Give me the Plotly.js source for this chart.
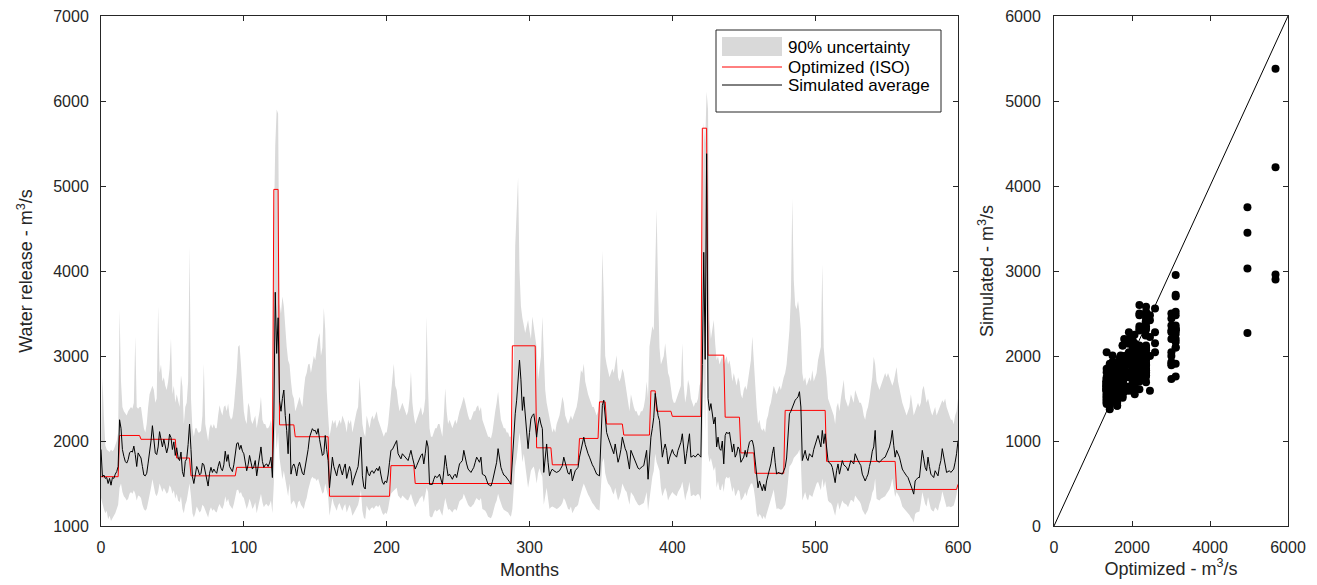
<!DOCTYPE html>
<html>
<head>
<meta charset="utf-8">
<script src="https://cdn.plot.ly/plotly-3.0.1.min.js"></script>
<style>html,body{margin:0;padding:0;background:#fff;}#chart{width:1317px;height:585px;}</style>
</head>
<body>
<div id="chart"></div>
<script>
// Simulated average release per month (m3/s), months 0..600
const simulated = [
1900,1580,1600,1560,1570,1500,1560,1480,1570,1560,
1610,1640,1700,2250,2150,1900,1820,1760,1740,1780,
1860,1880,1870,1940,1840,1700,1860,1830,1800,1700,
1600,1590,1620,1740,1850,2000,2180,2010,1860,1840,
1930,2110,2000,1930,2020,1950,1860,1930,2080,2040,
1900,1990,1830,1920,1800,1770,1870,1640,1580,1760,
1790,1960,2200,1900,1580,1500,1580,1700,1660,1600,
1620,1740,1720,1620,1560,1470,1620,1690,1630,1670,
1640,1620,1700,1760,1680,1650,1720,1880,1760,1840,
1700,1660,1640,1720,1860,1970,1980,1900,1950,1880,
1850,1760,1650,1720,1830,1750,1670,1700,1770,1590,
1700,1800,1930,1760,1690,1720,1730,1700,1740,1810,
1570,2270,3750,3030,3450,2480,2350,2500,2600,2300,
2125,1850,2320,1610,1700,1730,1680,1590,1700,1750,
1680,1620,1600,1700,1770,1900,2045,2100,2145,2120,
2125,2080,2145,2020,1930,1830,1850,2065,1900,1770,
1450,1620,1810,1700,1640,1590,1680,1730,1660,1600,
1680,1730,1560,1620,1700,1640,1480,1550,1590,1650,
1700,1850,2045,1590,1460,1435,1700,1620,1590,1640,
1650,1620,1660,1680,1650,1700,1600,1520,1490,1530,
1510,1600,1750,1890,1900,1930,1960,2005,1850,1820,
1790,1850,1830,1810,1790,1770,1830,1890,1810,1740,
1670,1710,1750,1810,1830,1850,1730,1850,2005,1930,
1490,1490,1490,1550,1590,1570,1580,1610,1550,1490,
1650,1830,1700,1590,1610,1580,1550,1590,1610,1570,
1650,1730,1750,1770,1890,1800,1730,1670,1650,1630,
1660,1690,1750,1810,1780,1750,1810,1610,1600,1590,
1540,1490,1480,1470,1520,1610,1700,1750,1910,1800,
1690,1640,1600,1590,1570,1550,1520,1490,1760,2100,
2320,2480,2700,2953,2720,2360,2520,2300,2165,1910,
2100,2260,2300,2320,2200,2045,2200,2280,2200,2145,
1630,1800,1965,1750,1590,1640,1670,1650,1640,1630,
1640,1650,1680,1710,1810,1750,1690,1620,1610,1670,
1530,1600,1650,1670,1690,1810,1900,1985,2045,1960,
1890,1850,1810,1760,1720,1690,1650,1610,1600,1590,
2000,2420,2480,2225,2100,2045,2000,1965,1900,1850,
1965,1850,1750,1810,1900,2045,1960,1910,1870,1770,
1670,1890,1850,1810,1760,1710,1680,1670,1690,1700,
1710,1800,1890,1550,1800,2045,2150,2280,2560,2400,
2300,2240,1965,1810,1900,1965,1890,1730,1800,1850,
1900,1850,1830,1810,1890,1930,1985,2085,1900,1730,
1850,1950,2085,1810,1820,1830,1810,1830,1850,1830,
1810,2900,4220,2960,5380,2500,2360,2440,2300,2200,
2280,1930,2045,1910,1890,2000,1730,2065,2105,2085,
2105,2005,1870,1965,1810,1850,1930,1900,1750,1780,
1810,1890,1810,1910,1985,2005,2005,1930,1770,1550,
1450,1530,1470,1415,1490,1415,1530,1590,1650,1730,
1850,1930,1750,1610,1630,1620,1610,1610,1650,1690,
1800,2100,2320,2350,2400,2440,2480,2500,2520,2580,
2400,1770,1830,1890,1800,1770,1850,1830,1810,1900,
1965,2030,2065,2000,1930,2125,1970,2085,1900,1770,
1740,1730,1690,1600,1510,1650,1730,1610,1700,1770,
1720,1710,1690,1650,1700,1770,1750,1730,1850,1800,
1770,1740,1710,1610,1570,1530,1570,1610,1700,1770,
1880,1930,2125,1770,1760,1750,1770,1790,1800,1810,
1850,1890,1930,2000,2125,1950,1810,1890,1850,1810,
1740,1670,1640,1610,1590,1570,1530,1490,1430,1375,
1530,1550,1570,1570,1700,1890,1790,1690,1650,1810,
1700,1610,1590,1570,1650,1620,1590,1700,1770,1910,
1810,1700,1630,1640,1650,1630,1650,1670,1750,1850,
2005];

// 90% uncertainty band, lower edge
const bandLower = [
1330,1250,1200,1150,1180,1080,1120,1060,1100,1120,
1150,1200,1250,1450,1500,1400,1350,1330,1300,1320,
1380,1400,1380,1420,1380,1300,1360,1350,1330,1250,
1200,1180,1200,1280,1350,1450,1550,1480,1380,1350,
1400,1500,1450,1400,1450,1420,1380,1400,1480,1450,
1380,1420,1320,1380,1300,1280,1350,1200,1150,1250,
1300,1400,1500,1350,1150,1100,1150,1230,1200,1160,
1180,1250,1230,1180,1130,1100,1180,1220,1180,1200,
1170,1160,1220,1260,1220,1200,1250,1350,1280,1320,
1250,1220,1200,1260,1350,1420,1430,1380,1400,1350,
1330,1270,1200,1250,1320,1270,1200,1230,1280,1150,
1220,1300,1380,1280,1220,1250,1260,1230,1250,1300,
1150,1500,2200,1900,2100,1800,1700,1550,1650,1550,
1450,1350,1500,1250,1280,1300,1260,1200,1280,1300,
1250,1220,1200,1280,1330,1420,1500,1550,1580,1560,
1560,1530,1560,1500,1450,1380,1400,1500,1420,1350,
1120,1230,1330,1260,1220,1180,1240,1270,1220,1180,
1230,1260,1160,1200,1250,1200,1120,1150,1180,1220,
1250,1330,1420,1180,1100,1080,1240,1200,1180,1210,
1220,1200,1230,1240,1220,1250,1200,1150,1130,1160,
1140,1200,1300,1380,1400,1420,1430,1450,1360,1340,
1320,1360,1340,1330,1310,1300,1340,1380,1320,1280,
1220,1260,1280,1320,1340,1360,1280,1350,1450,1400,
1120,1100,1110,1160,1190,1170,1180,1200,1160,1120,
1230,1330,1260,1190,1200,1180,1160,1190,1200,1180,
1230,1290,1310,1320,1380,1330,1290,1250,1230,1220,
1240,1260,1300,1330,1310,1300,1330,1200,1190,1180,
1150,1110,1100,1090,1130,1200,1260,1300,1380,1320,
1260,1220,1190,1180,1170,1160,1130,1110,1200,1500,
1700,1800,1950,2100,1950,1750,1850,1700,1600,1450,
1550,1650,1680,1700,1620,1500,1620,1680,1620,1580,
1250,1350,1450,1320,1200,1220,1230,1220,1210,1200,
1210,1220,1240,1270,1330,1300,1250,1200,1190,1230,
1150,1190,1220,1230,1250,1330,1400,1450,1500,1450,
1400,1370,1340,1300,1270,1250,1220,1200,1190,1180,
1450,1750,1800,1620,1550,1500,1480,1450,1400,1370,
1450,1380,1300,1340,1400,1500,1450,1420,1400,1320,
1250,1400,1380,1350,1310,1270,1250,1240,1250,1260,
1270,1330,1400,1180,1330,1500,1580,1650,1850,1750,
1700,1650,1450,1350,1400,1450,1400,1300,1340,1380,
1400,1380,1360,1350,1400,1430,1460,1520,1400,1300,
1380,1430,1520,1350,1360,1370,1350,1360,1380,1360,
1300,2000,2900,2100,3600,1850,1750,1800,1700,1650,
1700,1450,1530,1430,1420,1500,1400,1550,1580,1560,
1580,1500,1400,1460,1350,1380,1430,1410,1300,1320,
1350,1400,1350,1420,1470,1500,1500,1440,1320,1150,
1100,1140,1120,1080,1120,1080,1140,1200,1240,1300,
1380,1430,1300,1200,1210,1200,1190,1200,1220,1250,
1350,1550,1700,1720,1750,1800,1820,1840,1860,1900,
1750,1300,1350,1400,1330,1300,1370,1350,1340,1400,
1450,1500,1520,1470,1420,1560,1450,1530,1400,1300,
1280,1270,1240,1180,1120,1220,1280,1190,1250,1300,
1270,1260,1250,1220,1260,1310,1300,1280,1360,1330,
1310,1290,1260,1190,1160,1130,1160,1190,1260,1310,
1390,1430,1560,1320,1310,1300,1320,1330,1340,1350,
1380,1400,1430,1480,1560,1450,1340,1400,1370,1340,
1290,1230,1210,1190,1170,1160,1130,1100,1080,1040,
1140,1160,1170,1170,1270,1400,1330,1260,1230,1340,
1270,1200,1180,1170,1220,1200,1180,1260,1310,1410,
1340,1270,1220,1230,1230,1220,1230,1240,1300,1370,
1480];

// 90% uncertainty band, upper edge
const bandUpper = [
1950,2750,2300,1950,1900,1880,1870,1900,1880,1900,
1950,2000,2100,3545,2700,2400,2350,2320,2300,2350,
2380,2400,2380,2450,3230,2400,2380,2400,2400,2250,
2150,2100,2200,2400,2550,2600,2650,2600,2450,2500,
3585,2800,2900,2700,2750,2650,2600,2700,2850,3210,
2550,2650,2450,2550,2450,2400,2775,2640,2200,2400,
2450,2700,4295,2500,2150,2050,2150,2150,2100,2100,
2120,2300,2910,2200,2100,2000,2150,2200,2150,2200,
2150,2150,2300,2420,2350,2300,2400,2420,2350,2440,
2300,2250,2280,2400,2600,2800,3110,3130,2900,2600,
2350,2250,2200,2450,2400,2250,2200,2250,2300,2150,
2250,2350,2520,2250,2200,2200,2150,2150,2180,2250,
2100,4500,5480,5900,5850,3620,3500,3700,3585,3300,
3110,2950,2900,2700,2550,2500,2350,2400,2450,2520,
2450,2400,2600,2750,2800,2900,2910,2800,2900,3000,
2950,3100,3200,3270,3000,3100,3565,3310,2600,2300,
2050,2150,2250,2200,2250,2150,2200,2250,2200,2300,
2250,2200,2100,2250,2200,2250,2100,2200,2300,2350,
2400,2755,2500,2200,2100,2050,2300,2200,2150,2250,
2300,2250,2300,2350,2250,2200,2150,2100,2050,2100,
2100,2200,2400,2550,2700,2910,2650,2600,2450,2350,
2400,2450,2400,2350,2300,2350,2500,2815,2450,2300,
2200,2250,2300,2350,2400,2300,2350,2500,3465,2600,
2150,2050,2050,2100,2150,2150,2200,2200,2100,2050,
2300,2620,2350,2200,2250,2200,2150,2200,2250,2200,
2300,2350,2400,2450,2520,2450,2350,2300,2250,2250,
2300,2350,2350,2400,2420,2350,2400,2250,2200,2150,
2100,2050,2050,2030,2100,2250,2350,2450,2580,2400,
2250,2200,2150,2150,2100,2100,2050,2050,2300,3000,
4295,4700,5100,4000,3585,3450,3350,3270,3350,3425,
3300,3200,3465,3350,3200,3100,2720,2900,2990,3465,
3000,2600,2450,2350,2250,2150,2100,2150,2100,2200,
2250,2300,2400,2520,2450,2300,2250,2200,2250,2300,
2250,2300,2350,2400,2500,2650,2835,2800,2910,2700,
2600,2550,2500,2450,2400,2400,2350,2300,2350,2500,
3200,4235,3700,3000,2900,2800,2750,2800,2850,2800,
2900,3010,2750,2700,2750,2850,2800,2700,2600,2500,
2350,2550,2450,2400,2350,2350,2300,2300,2350,2350,
2400,2500,2700,2500,3110,3250,3350,3300,4000,4730,
3800,3100,2900,2950,3000,3150,3000,2800,2750,2600,
2500,2450,2450,2500,2550,2600,2650,3150,2650,2450,
2550,2720,2650,2500,2450,2400,2450,2450,2500,2650,
2700,4500,5750,5500,6110,5900,3425,3200,3300,3425,
3150,2950,3000,2900,2950,3000,2900,2950,3000,2900,
2950,2850,2700,2800,2700,2650,2750,2700,2550,2500,
2600,2650,2600,2700,2800,2950,3230,2900,2700,2400,
2200,2250,2150,2120,2150,2100,2250,2300,2400,2450,
2550,2650,2600,2550,2600,2650,2600,2700,2750,2800,
2900,3100,3310,3700,4850,3900,3600,3550,3650,3505,
3300,2800,2700,2750,2650,2700,2750,2700,2835,2700,
2750,2800,2950,3050,3110,4080,3100,2900,2750,2500,
2450,2400,2350,2300,2200,2400,2450,2350,2500,2600,
2720,2500,2450,2400,2450,2550,2500,2450,2600,2550,
2500,2450,2450,2400,2300,2250,2350,2400,2500,2600,
2750,2990,2900,2700,2650,2600,2650,2700,2750,2800,
2750,2800,2750,2700,2650,2700,2800,2870,2700,2600,
2500,2450,2400,2350,2300,2350,2400,2550,2400,2300,
2350,2400,2450,2400,2450,2600,2650,2550,2450,2500,
2400,2350,2300,2350,2400,2300,2350,2400,2450,2480,
2450,2500,2400,2350,2300,2250,2250,2200,2300,2350,
2500];

// Optimized (ISO) release: piecewise-constant schedule (start month, value)
const optStartMonth = [0, 13, 28, 53, 63, 95, 121, 125, 136, 160, 203, 220, 288, 305, 316, 335, 349, 354, 366, 385, 389, 400, 421, 425, 437, 448, 458, 479, 508, 557, 600];
const optValue      = [1580, 2065, 2020, 1800, 1590, 1690, 4960, 2190, 2050, 1350, 1710, 1500, 3120, 1920, 1720, 2030, 2460, 2200, 2070, 2590, 2350, 2290, 5680, 3010, 2280, 1860, 1620, 2360, 1760, 1430, 1490];

const leftTicks = [1000, 2000, 3000, 4000, 5000, 6000, 7000];
const monthTicks = [0, 100, 200, 300, 400, 500, 600];
const scatterTicksX = [0, 2000, 4000, 6000];
const scatterTicksY = [0, 1000, 2000, 3000, 4000, 5000, 6000];
const legendLabels = ['90% uncertainty', 'Optimized (ISO)', 'Simulated average'];

// build series
const months = simulated.map((_, i) => i);
const optimized = months.map(m => {
  let v = optValue[0];
  for (let k = 0; k < optStartMonth.length; k++) if (m >= optStartMonth[k]) v = optValue[k];
  return v;
});

const FONT = 'Liberation Sans, Arial, sans-serif';
const AX = '#262626';
const BAND = '#d9d9d9';
const W = 1317, H = 585;
const px = v => v / W;
const py = v => 1 - v / H;

const traces = [
  {x: months, y: bandLower, type: 'scatter', mode: 'lines', line: {width: 0, color: 'rgba(0,0,0,0)'},
   showlegend: false, hoverinfo: 'skip', xaxis: 'x', yaxis: 'y'},
  {x: months, y: bandUpper, type: 'scatter', mode: 'lines', fill: 'tonexty', fillcolor: BAND,
   line: {width: 0, color: BAND}, name: legendLabels[0], showlegend: false, xaxis: 'x', yaxis: 'y'},
  {x: months, y: optimized, type: 'scatter', mode: 'lines', line: {color: '#ff0000', width: 1},
   name: legendLabels[1], showlegend: false, xaxis: 'x', yaxis: 'y'},
  {x: months, y: simulated, type: 'scatter', mode: 'lines', line: {color: '#000000', width: 1},
   name: legendLabels[2], showlegend: false, xaxis: 'x', yaxis: 'y'},
  {x: [0, 6000], y: [0, 6000], type: 'scatter', mode: 'lines', line: {color: '#000', width: 1},
   showlegend: false, xaxis: 'x2', yaxis: 'y2'},
  {x: optimized.slice(0, 600), y: simulated.slice(0, 600), type: 'scatter', mode: 'markers',
   marker: {color: '#000', size: 8}, showlegend: false, xaxis: 'x2', yaxis: 'y2'}
];

function axisBase() {
  return {
    showgrid: false, zeroline: false, showline: true, mirror: 'ticks',
    linecolor: AX, linewidth: 1, ticks: 'inside', ticklen: 5, tickcolor: AX, tickwidth: 1,
    tickfont: {family: FONT, size: 16, color: AX}
  };
}
const titleFont = {family: FONT, size: 18, color: AX};

// hand-built legend (box, swatches and labels) in page coordinates
const legendBox = {x0: 716, x1: 941, y0: 30, y1: 112};
const rowY = [47, 67, 85];
const shapes = [
  {type: 'rect', xref: 'paper', yref: 'paper', x0: px(legendBox.x0), x1: px(legendBox.x1),
   y0: py(legendBox.y1), y1: py(legendBox.y0), fillcolor: '#fff', line: {color: AX, width: 1}},
  {type: 'rect', xref: 'paper', yref: 'paper', x0: px(722), x1: px(782), y0: py(56), y1: py(37),
   fillcolor: BAND, line: {width: 0}},
  {type: 'line', xref: 'paper', yref: 'paper', x0: px(722), x1: px(782), y0: py(rowY[1]), y1: py(rowY[1]),
   line: {color: '#ff0000', width: 1}},
  {type: 'line', xref: 'paper', yref: 'paper', x0: px(722), x1: px(782), y0: py(rowY[2]), y1: py(rowY[2]),
   line: {color: '#000', width: 1}}
];
const annotations = legendLabels.map((t, i) => ({
  text: t, xref: 'paper', yref: 'paper', x: px(786), y: py(rowY[i]), xanchor: 'left', yanchor: 'middle',
  showarrow: false, font: {family: FONT, size: 17, color: '#000'}
}));

const layout = {
  width: W, height: H,
  margin: {l: 0, r: 0, t: 0, b: 0},
  paper_bgcolor: '#fff', plot_bgcolor: '#fff',
  font: {family: FONT, color: AX},
  showlegend: false,
  shapes: shapes, annotations: annotations,
  xaxis: Object.assign(axisBase(), {
    domain: [px(101), px(958)], range: [0, 600], tickvals: monthTicks, anchor: 'y', ticklabelstandoff: 7,
    title: {text: 'Months', font: titleFont, standoff: 8}
  }),
  yaxis: Object.assign(axisBase(), {
    domain: [py(526), py(16)], range: [1000, 7000], tickvals: leftTicks, anchor: 'x', ticklabelstandoff: 8,
    title: {text: 'Water release - m<sup>3</sup>/s', font: titleFont, standoff: 15}
  }),
  xaxis2: Object.assign(axisBase(), {
    domain: [px(1054), px(1288)], range: [0, 6000], tickvals: scatterTicksX, anchor: 'y2', ticklabelstandoff: 7,
    title: {text: 'Optimized - m<sup>3</sup>/s', font: titleFont, standoff: 6}
  }),
  yaxis2: Object.assign(axisBase(), {
    domain: [py(526), py(16)], range: [0, 6000], tickvals: scatterTicksY, anchor: 'x2', ticklabelstandoff: 9,
    title: {text: 'Simulated - m<sup>3</sup>/s', font: titleFont, standoff: 6}
  })
};

Plotly.newPlot('chart', traces, layout, {displayModeBar: false, staticPlot: true});
</script>
</body>
</html>
